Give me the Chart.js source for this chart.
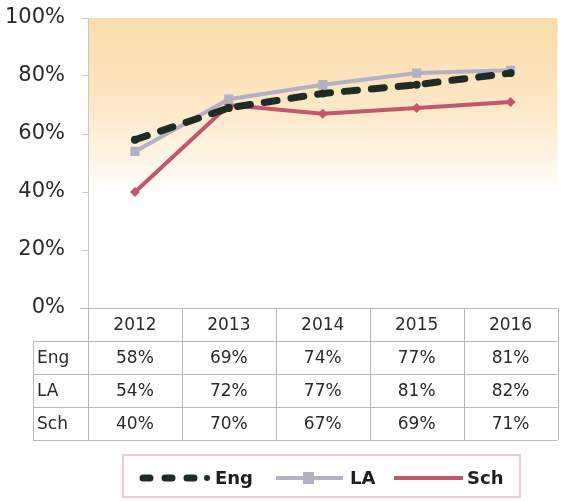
<!DOCTYPE html>
<html>
<head>
<meta charset="utf-8">
<script src="https://cdn.jsdelivr.net/npm/chart.js@4"></script>
<style>
  html, body { margin: 0; padding: 0; background: #fff; }
  #wrap { width: 564px; height: 501px; position: relative; }
</style>
</head>
<body>
<div id="wrap"><canvas id="chart" width="564" height="501"></canvas></div>
<script>
const years = ["2012", "2013", "2014", "2015", "2016"];
const eng = [58, 69, 74, 77, 81];
const la = [54, 72, 77, 81, 82];
const sch = [40, 70, 67, 69, 71];
const yTicks = [0, 20, 40, 60, 80, 100];

const engColor = "#1f2b25";
const laColor = "#b3b1c4";
const schColor = "#c2566b";
const font = "DejaVu Sans, Verdana, sans-serif";

// orange wash behind the lines
const bgPlugin = {
    id: "bg",
    beforeDraw(chart) {
        const { ctx, chartArea: a } = chart;
        const g = ctx.createLinearGradient(0, a.top, 0, a.bottom);
        g.addColorStop(0, "#fcdcaa");
        g.addColorStop(0.3, "#fde7c6");
        g.addColorStop(0.62, "#ffffff");
        g.addColorStop(1, "#ffffff");
        ctx.save();
        ctx.fillStyle = g;
        ctx.fillRect(a.left, a.top, a.right - a.left, a.bottom - a.top);
        ctx.restore();
    }
};

// data table under the plot + legend box
const tablePlugin = {
    id: "table",
    afterDraw(chart) {
        const { ctx, chartArea: a } = chart;
        const x = chart.scales.x;
        const rowH = 33;
        const top = a.bottom;
        const labelLeft = 33;
        const rows = [["Eng", eng], ["LA", la], ["Sch", sch]];
        ctx.save();
        ctx.strokeStyle = "#b8b8b8";
        ctx.lineWidth = 1;
        ctx.beginPath();
        ctx.moveTo(a.left - 8, top + 0.5); ctx.lineTo(a.right, top + 0.5);
        for (let r = 1; r <= 4; r++) {
            const y = Math.round(top + r * rowH) + 0.5;
            ctx.moveTo(labelLeft, y); ctx.lineTo(a.right, y);
        }
        for (let i = 0; i <= years.length; i++) {
            const vx = Math.round(a.left + i * (a.right - a.left) / years.length) + 0.5;
            ctx.moveTo(vx, top); ctx.lineTo(vx, top + 4 * rowH);
        }
        ctx.moveTo(labelLeft + 0.5, top + rowH); ctx.lineTo(labelLeft + 0.5, top + 4 * rowH);
        ctx.stroke();

        ctx.fillStyle = "#2a2a2a";
        ctx.font = "17px " + font;
        ctx.textAlign = "center";
        ctx.textBaseline = "middle";
        years.forEach((yr, i) => ctx.fillText(yr, x.getPixelForValue(i), top + rowH / 2 + 1));
        rows.forEach(([name, vals], r) => {
            const cy = top + (r + 1) * rowH + rowH / 2 + 1;
            ctx.textAlign = "left";
            ctx.fillText(name, labelLeft + 4, cy);
            ctx.textAlign = "center";
            vals.forEach((v, i) => ctx.fillText(v + "%", x.getPixelForValue(i), cy));
        });

        // legend
        ctx.strokeStyle = "#f2c8d2";
        ctx.lineWidth = 2;
        ctx.strokeRect(123, 455, 397, 42);
        const ly = 478;
        ctx.lineCap = "round";
        ctx.strokeStyle = engColor;
        ctx.lineWidth = 7;
        ctx.setLineDash([7, 15]);
        ctx.beginPath(); ctx.moveTo(143, ly); ctx.lineTo(200, ly); ctx.stroke();
        ctx.setLineDash([]);
        ctx.fillStyle = engColor;
        ctx.beginPath(); ctx.arc(207, ly, 3, 0, Math.PI * 2); ctx.fill();
        ctx.lineCap = "butt";
        ctx.strokeStyle = laColor;
        ctx.lineWidth = 4;
        ctx.beginPath(); ctx.moveTo(276, ly); ctx.lineTo(343, ly); ctx.stroke();
        ctx.fillStyle = laColor;
        ctx.fillRect(303, ly - 6, 11, 12);
        ctx.strokeStyle = schColor;
        ctx.beginPath(); ctx.moveTo(394, ly); ctx.lineTo(463, ly); ctx.stroke();
        ctx.fillStyle = "#1f1f1f";
        ctx.font = "bold 18px " + font;
        ctx.textAlign = "left";
        ctx.fillText("Eng", 215, ly + 1);
        ctx.fillText("LA", 350, ly + 1);
        ctx.fillText("Sch", 467, ly + 1);
        ctx.restore();
    }
};

new Chart(document.getElementById("chart"), {
    type: "line",
    data: {
        labels: years,
        datasets: [
            {
                label: "Eng", data: eng, borderColor: engColor, backgroundColor: engColor,
                borderWidth: 7, borderDash: [13, 14], borderCapStyle: "round",
                pointRadius: 4, pointStyle: "circle", pointBorderWidth: 0
            },
            {
                label: "LA", data: la, borderColor: laColor, backgroundColor: laColor,
                borderWidth: 4, pointRadius: 6.5, pointStyle: "rect", pointBorderWidth: 0
            },
            {
                label: "Sch", data: sch, borderColor: schColor, backgroundColor: schColor,
                borderWidth: 4, pointRadius: 5, pointStyle: "rectRot", pointBorderWidth: 0
            }
        ]
    },
    options: {
        responsive: false,
        animation: false,
        layout: { padding: { top: 18, right: 5, bottom: 193, left: 0 } },
        plugins: { legend: { display: false }, tooltip: { enabled: false } },
        scales: {
            x: { display: false, offset: true },
            y: {
                min: 0, max: 100,
                afterFit(s) {
                    s.width = 88;
                    s.paddingTop = 0;
                    s.paddingBottom = 0;
                },
                afterBuildTicks(s) { s.ticks = yTicks.map(v => ({ value: v })); },
                border: { color: "#c8c8c8", width: 1 },
                grid: { drawOnChartArea: false, tickLength: 6, color: "#c8c8c8" },
                ticks: {
                    color: "#2a2a2a", padding: 17,
                    font: { family: font, size: 21 },
                    callback: v => v + "%"
                }
            }
        }
    },
    plugins: [bgPlugin, tablePlugin]
});
</script>
</body>
</html>
